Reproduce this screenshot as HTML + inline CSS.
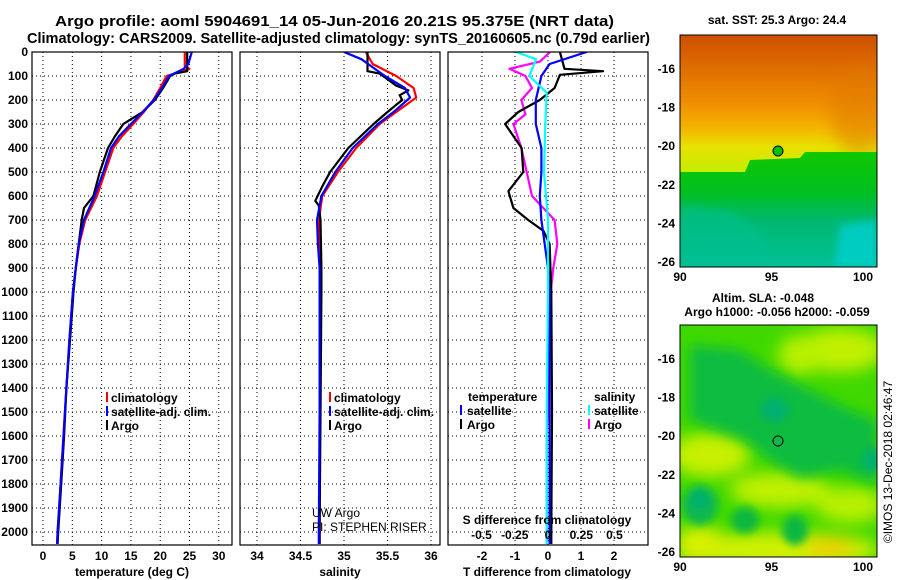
<!DOCTYPE html>
<html><head><meta charset="utf-8"><style>
html,body{margin:0;padding:0;background:#fff;}
svg{display:block;font-family:"Liberation Sans",sans-serif;}
.b{font-weight:bold;}
</style></head><body>
<svg id="fig" width="900" height="580" viewBox="0 0 900 580" xmlns="http://www.w3.org/2000/svg">
<defs>
<linearGradient id="sstTop" x1="0" y1="0" x2="0" y2="1">
<stop offset="0" stop-color="#cc5000"/><stop offset="0.12" stop-color="#dc6800"/><stop offset="0.3" stop-color="#f09000"/><stop offset="0.4" stop-color="#f4b400"/><stop offset="0.48" stop-color="#e8e000"/><stop offset="0.6" stop-color="#c0f000"/><stop offset="1" stop-color="#b0f000"/>
</linearGradient>
<linearGradient id="sstBot" x1="0" y1="0" x2="0" y2="1">
<stop offset="0" stop-color="#10c800"/><stop offset="0.35" stop-color="#00c020"/><stop offset="0.6" stop-color="#00b870"/><stop offset="1" stop-color="#00c098"/>
</linearGradient>
<filter id="blur" x="-50%" y="-50%" width="200%" height="200%"><feGaussianBlur stdDeviation="8"/></filter>
<filter id="blur2" x="-50%" y="-50%" width="200%" height="200%"><feGaussianBlur stdDeviation="4"/></filter>
<filter id="blur3" x="-50%" y="-50%" width="200%" height="200%"><feGaussianBlur stdDeviation="6"/></filter>
<clipPath id="clipTop"><rect x="680" y="35" width="197" height="232"/></clipPath>
<clipPath id="clipBot"><rect x="680" y="325" width="197" height="232"/></clipPath>
<clipPath id="c1"><rect x="32" y="52" width="200" height="493"/></clipPath>
<clipPath id="c2"><rect x="240" y="52" width="200" height="493"/></clipPath>
<clipPath id="c3"><rect x="448" y="52" width="200" height="493"/></clipPath>
</defs>

<text class="b" x="55" y="26" font-size="15" textLength="559" lengthAdjust="spacingAndGlyphs">Argo profile: aoml 5904691_14 05-Jun-2016 20.21S 95.375E (NRT data)</text>
<text class="b" x="27" y="43" font-size="15" textLength="623" lengthAdjust="spacingAndGlyphs">Climatology: CARS2009. Satellite-adjusted climatology: synTS_20160605.nc (0.79d earlier)</text>

<g id="grids"></g>
<g id="series"></g>
<g id="axes"></g>

<!-- legends -->
<g class="b" font-size="12">
<rect x="106" y="392" width="2" height="10" fill="#f00"/><text x="111" y="402">climatology</text>
<rect x="106" y="406" width="2" height="10" fill="#00f"/><text x="111" y="416">satellite-adj. clim.</text>
<rect x="106" y="420" width="2" height="10" fill="#000"/><text x="111" y="430">Argo</text>
</g>
<g class="b" font-size="12">
<rect x="329" y="392" width="2" height="10" fill="#f00"/><text x="334" y="402">climatology</text>
<rect x="329" y="406" width="2" height="10" fill="#00f"/><text x="334" y="416">satellite-adj. clim.</text>
<rect x="329" y="420" width="2" height="10" fill="#000"/><text x="334" y="430">Argo</text>
</g>
<g class="b" font-size="12">
<text x="468" y="401">temperature</text>
<rect x="460" y="405" width="2" height="10" fill="#00f"/><text x="467" y="415">satellite</text>
<rect x="460" y="419" width="2" height="10" fill="#000"/><text x="467" y="429">Argo</text>
<text x="594" y="401">salinity</text>
<rect x="588" y="405" width="2" height="10" fill="#0ff"/><text x="594" y="415">satellite</text>
<rect x="588" y="419" width="2" height="10" fill="#f0f"/><text x="594" y="429">Argo</text>
</g>
<text x="312" y="517" font-size="12">UW Argo</text>
<text x="312" y="531" font-size="12">PI: STEPHEN RISER</text>

<!-- SST map -->
<g clip-path="url(#clipTop)">
<rect x="680" y="35" width="197" height="232" fill="url(#sstTop)"/>
<ellipse cx="860" cy="110" rx="30" ry="45" fill="#e07800" opacity="0.5" filter="url(#blur)"/>
<polygon points="680,172 745,172 750,160 800,158 805,152 877,152 877,267 680,267" fill="url(#sstBot)"/>
<polygon points="680,205 730,210 760,230 770,267 680,267" fill="#00c090" opacity="0.6" filter="url(#blur2)"/>
<polygon points="840,225 877,220 877,267 835,267" fill="#00d0d0" opacity="0.8" filter="url(#blur2)"/>
</g>
<rect x="680" y="35" width="197" height="232" fill="none" stroke="#000"/>
<circle cx="778" cy="151" r="5" fill="#00c000" stroke="#000"/>
<text class="b" x="777" y="24" font-size="12" text-anchor="middle">sat. SST: 25.3 Argo: 24.4</text>

<!-- SLA map -->
<g clip-path="url(#clipBot)">
<rect x="680" y="325" width="197" height="232" fill="#40d800"/>
<g filter="url(#blur)">
<ellipse cx="840" cy="350" rx="45" ry="22" fill="#c0f000"/>
<ellipse cx="800" cy="355" rx="22" ry="20" fill="#b8f000"/>
<ellipse cx="710" cy="455" rx="40" ry="22" fill="#c8f000"/>
<ellipse cx="780" cy="490" rx="50" ry="18" fill="#c0f000"/>
<ellipse cx="850" cy="505" rx="35" ry="18" fill="#b8f000"/>
<ellipse cx="780" cy="550" rx="100" ry="18" fill="#d0f000"/>
<ellipse cx="700" cy="545" rx="25" ry="20" fill="#d8f000"/>
<ellipse cx="830" cy="548" rx="25" ry="10" fill="#f0d000"/>
</g>
<polygon points="690,345 740,350 770,370 810,390 850,410 877,420 877,485 840,470 800,478 770,460 745,440 690,420" fill="#10bc40" filter="url(#blur3)"/>
<g filter="url(#blur2)">
<ellipse cx="775" cy="410" rx="14" ry="12" fill="#00b070"/>
<ellipse cx="872" cy="460" rx="9" ry="12" fill="#00b070"/>
<ellipse cx="700" cy="505" rx="18" ry="20" fill="#10b850"/>
<ellipse cx="700" cy="500" rx="9" ry="9" fill="#00b070"/>
<ellipse cx="745" cy="520" rx="14" ry="13" fill="#10b840"/>
<ellipse cx="795" cy="530" rx="13" ry="15" fill="#10b840"/>
</g>
</g>
<rect x="680" y="325" width="197" height="232" fill="none" stroke="#000"/>
<circle cx="778" cy="441" r="5" fill="none" stroke="#000"/>
<text class="b" x="763" y="302" font-size="12" text-anchor="middle">Altim. SLA: -0.048</text>
<text class="b" x="777" y="316" font-size="12" text-anchor="middle">Argo h1000: -0.056 h2000: -0.059</text>
<text x="892" y="462" font-size="12" text-anchor="middle" transform="rotate(-90 892 462)">©IMOS 13-Dec-2018 02:46:47</text>

<script>
// ---- data ----
const depthTicks = [0,100,200,300,400,500,600,700,800,900,1000,1100,1200,1300,1400,1500,1600,1700,1800,1900,2000];
const tempTicks = [0,5,10,15,20,25,30];
const salTicks = [34,34.5,35,35.5,36];
const salTickLabels = ["34","34.5","35","35.5","36"];
const tdiffTicks = [-2,-1,0,1,2];
const sdiffTicks = [-0.5,-0.25,0,0.25,0.5];
const sdiffTickLabels = ["-0.5","-0.25","0","0.25","0.5"];
const latTicks = [-16,-18,-20,-22,-24,-26];
const lonTicks = [90,95,100];

const tempClimDepth = [0,60,70,100,150,200,250,300,350,400,500,600,700,800,900,1000,1200,1400,1600,1800,2000,2050];
const tempClim = [24.2,24.2,25.0,21.1,20.0,18.8,17.2,15.4,13.5,12.0,10.6,9.2,7.2,6.2,5.6,5.1,4.5,4.0,3.5,3.0,2.5,2.4];
const tempSatDepth = [0,50,70,100,150,200,250,300,350,400,500,600,700,800,900,1000,1200,1400,1600,1800,2000,2050];
const tempSat = [25.4,24.8,24.0,21.5,20.3,18.9,17.0,15.0,13.0,11.6,10.3,8.8,7.0,6.1,5.6,5.1,4.5,4.0,3.5,3.0,2.5,2.4];
const tempArgoDepth = [0,80,90,100,150,200,250,300,350,400,500,600,650,700,800,900,1000,1200,1400,1600,1800,2000,2050];
const tempArgo = [24.6,24.6,22.5,21.7,20.5,19.1,17.0,13.7,12.3,11.1,9.7,8.6,7.0,6.6,6.1,5.6,5.2,4.6,4.0,3.6,3.1,2.6,2.5];

const salClimDepth = [0,50,100,150,190,250,300,400,500,600,700,800,900,1000,1500,2000,2050];
const salClim = [35.25,35.33,35.6,35.8,35.83,35.6,35.41,35.14,34.93,34.75,34.71,34.72,34.73,34.73,34.72,34.72,34.72];
const salSatDepth = [0,30,100,150,190,250,300,400,500,600,700,800,900,1000,1500,2000,2050];
const salSat = [35.0,35.2,35.47,35.7,35.76,35.57,35.39,35.1,34.9,34.74,34.69,34.7,34.72,34.72,34.72,34.71,34.71];
const salArgoDepth = [0,80,90,140,160,180,200,220,250,300,400,500,560,620,640,700,900,1000,1500,2000,2050];
const salArgo = [35.27,35.27,35.41,35.6,35.74,35.64,35.67,35.6,35.5,35.34,35.05,34.84,34.75,34.67,34.71,34.73,34.74,34.74,34.73,34.72,34.72];

const tdSatDepth = [0,50,100,200,300,400,500,600,700,800,900,1000,1500,2000,2050];
const tdSat = [1.17,0.05,-0.2,-0.37,-0.37,-0.2,-0.2,-0.25,-0.2,-0.1,0,0.05,0.05,0.05,0.05];
const tdArgoDepth = [0,70,80,95,150,200,250,300,400,500,580,650,700,745,800,1000,1500,2000,2050];
const tdArgo = [0.36,0.5,1.67,0.36,0.2,-0.25,-0.9,-1.3,-0.8,-0.75,-1.2,-1.05,-0.6,-0.14,0.05,0.1,0.12,0.1,0.1];
const sdSatDepth = [0,30,100,170,300,500,700,1000,1500,2000,2050];
const sdSat = [-0.24,-0.09,-0.14,-0.01,-0.02,-0.03,0,0,-0.01,-0.01,-0.01];
const sdArgoDepth = [0,40,70,100,150,200,260,300,400,500,600,700,800,900,1000,1100,1600,2000,2050];
const sdArgo = [0.015,-0.06,-0.29,-0.17,-0.12,-0.2,-0.17,-0.26,-0.2,-0.16,-0.12,0.05,0.07,0.04,0.02,0.02,-0.01,-0.01,-0.01];

// ---- scales ----
const NS="http://www.w3.org/2000/svg";
const TOP=52, BOT=545;
function yD(d){return TOP + d*0.24;}
function xT(t){return 43 + t*5.86;}
function xS(s){return 257 + (s-34)*87;}
function xTD(t){return 548 + t*33;}
function xSD(s){return 548 + s*133;}
function yLat1(l){return 69 + (-16-l)*19.3;}
function yLat2(l){return 359 + (-16-l)*19.3;}
function xLon(l){return 680 + (l-90)*18.3;}

function mk(tag, attrs, parent){const e=document.createElementNS(NS,tag);for(const k in attrs)e.setAttribute(k,attrs[k]);parent.appendChild(e);return e;}
const grids=document.getElementById('grids'), series=document.getElementById('series'), axes=document.getElementById('axes');
const panels=[[32,232],[240,440],[448,648]];

for(const [x0,x1] of panels){
  for(const d of depthTicks){
    const g=mk('line',{x1:x0,x2:x1,y1:yD(d),y2:yD(d),stroke:'#000','stroke-dasharray':'1,3','stroke-width':1},grids);
    
    
  }
}
function vgrid(xs){for(const x of xs){const g=mk('line',{x1:x,x2:x,y1:TOP,y2:BOT,stroke:'#000','stroke-dasharray':'1,3','stroke-width':1},grids);
  
  }}
vgrid(tempTicks.map(xT)); vgrid(salTicks.map(xS)); vgrid(tdiffTicks.map(xTD));

function line(depths, vals, xf, color, clip, name, w){
  const pts=depths.map((d,i)=>xf(vals[i]).toFixed(1)+','+yD(d).toFixed(1)).join(' ');
  const p=mk('polyline',{points:pts,fill:'none',stroke:color,'stroke-width':w||2.2,'clip-path':'url(#'+clip+')','stroke-linejoin':'round'},series);
  
  
}
line(tempClimDepth,tempClim,xT,'#f00','c1','temp-climatology-line');
line(tempArgoDepth,tempArgo,xT,'#000','c1','temp-argo-line');
line(tempSatDepth,tempSat,xT,'#00f','c1','temp-satellite-line');
line(salClimDepth,salClim,xS,'#f00','c2','sal-climatology-line');
line(salArgoDepth,salArgo,xS,'#000','c2','sal-argo-line');
line(salSatDepth,salSat,xS,'#00f','c2','sal-satellite-line');
line(sdArgoDepth,sdArgo,xSD,'#f0f','c3','sdiff-argo-line');
line(tdArgoDepth,tdArgo,xTD,'#000','c3','tdiff-argo-line');
line(tdSatDepth,tdSat,xTD,'#00f','c3','tdiff-satellite-line');
line(sdSatDepth,sdSat,xSD,'#0ff','c3','sdiff-satellite-line');

for(const [x0,x1] of panels){
  const r=mk('rect',{x:x0,y:TOP,width:x1-x0,height:BOT-TOP,fill:'none',stroke:'#000','stroke-width':1.2},axes);
  
  
}
function txt(x,y,s,anchor,name,size){const t=mk('text',{x:x,y:y,'text-anchor':anchor||'middle','font-size':size||12,'font-weight':'bold'},axes);t.textContent=s;
  
  return t;}
for(const d of depthTicks){txt(28,yD(d)+4,String(d),'end','depth-tick-label');}
tempTicks.forEach(t=>txt(xT(t),560,String(t),'middle','temp-tick-label'));
salTicks.forEach((s,i)=>txt(xS(s),560,salTickLabels[i],'middle','sal-tick-label'));
tdiffTicks.forEach(t=>txt(xTD(t),560,String(t),'middle','tdiff-tick-label'));
sdiffTicks.forEach((s,i)=>txt(xSD(s),539,sdiffTickLabels[i],'middle','sdiff-tick-label'));
txt(132,576,'temperature (deg C)','middle','temp-axis-title');
txt(340,576,'salinity','middle','sal-axis-title');
txt(547,576,'T difference from climatology','middle','tdiff-axis-title');
txt(547,524,'S difference from climatology','middle','sdiff-axis-title');

function mapAxes(yf, top, bot, nm){
  for(const l of latTicks){const y=yf(l);
    mk('line',{x1:680,x2:684,y1:y,y2:y,stroke:'#000'},axes);
    mk('line',{x1:873,x2:877,y1:y,y2:y,stroke:'#000'},axes);
    txt(675,y+4,String(l),'end',nm+'-lat-label');}
  for(const l of lonTicks){const x=xLon(l);
    mk('line',{x1:x,x2:x,y1:bot,y2:bot-4,stroke:'#000'},axes);
    mk('line',{x1:x,x2:x,y1:top,y2:top+4,stroke:'#000'},axes);
    txt(x,bot+14,String(l),'middle',nm+'-lon-label');}
}
mapAxes(yLat1,35,267,'sst-map');
mapAxes(yLat2,325,557,'sla-map');
</script>
</svg>
</body></html>
